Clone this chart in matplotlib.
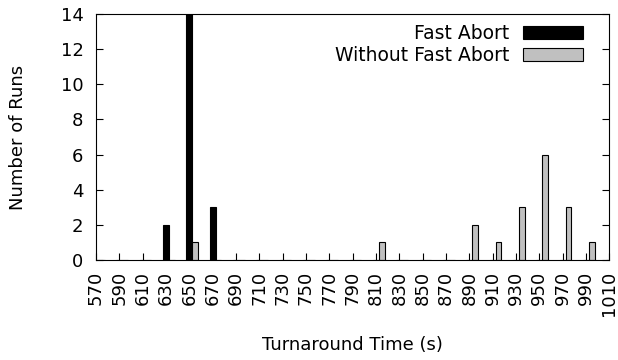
import matplotlib
matplotlib.use("Agg")
from matplotlib import pyplot as plt
import numpy as np

# turnaround time bins (s)
times = [570, 590, 610, 630, 650, 670, 690, 710, 730, 750, 770, 790,
         810, 830, 850, 870, 890, 910, 930, 950, 970, 990, 1010]
fast_abort = [0, 0, 0, 2, 14, 3, 0, 0, 0, 0, 0, 0,
              0, 0, 0, 0, 0, 0, 0, 0, 0, 0, 0]
without_fast_abort = [0, 0, 0, 0, 1, 0, 0, 0, 0, 0, 0, 0,
                      1, 0, 0, 0, 2, 1, 3, 6, 3, 1, 0]

plt.rcParams['font.family'] = ['DejaVu Sans']

fig = plt.figure(figsize=(6.18, 3.6), dpi=100)
ax = fig.add_axes([0.1553, 0.2786, 0.8306, 0.6817])

x = np.array(times)
w = 5
ax.bar(x, fast_abort, width=w, color="black", edgecolor="black",
       linewidth=0.8, label="Fast Abort")
ax.bar(x + w, without_fast_abort, width=w, color="#c0c0c0", edgecolor="black",
       linewidth=0.8, label="Without Fast Abort")

ax.set_xlim(570, 1010)
ax.set_ylim(0, 14)
ax.set_xticks(times)
ax.set_xticklabels([str(t) for t in times], rotation=90, fontsize=13)
ax.set_yticks(range(0, 15, 2))
ax.tick_params(axis="y", direction="in", length=5, labelsize=13, pad=9,
               left=True, right=True)
ax.tick_params(axis="x", direction="in", length=5, pad=8, top=False)

ax.set_xlabel("Turnaround Time (s)", fontsize=13)
ax.set_ylabel("Number of Runs", fontsize=13)
ax.xaxis.set_label_coords(0.5, -0.31)
ax.yaxis.set_label_coords(-0.134, 0.5)

ax.legend(loc="upper right", bbox_to_anchor=(0.949, 0.96), frameon=False,
          markerfirst=False, fontsize=13.5, handlelength=3.2, handleheight=0.65,
          handletextpad=0.75, labelspacing=0.15, borderpad=0, borderaxespad=0)

fig.savefig("out.png", dpi=100)
